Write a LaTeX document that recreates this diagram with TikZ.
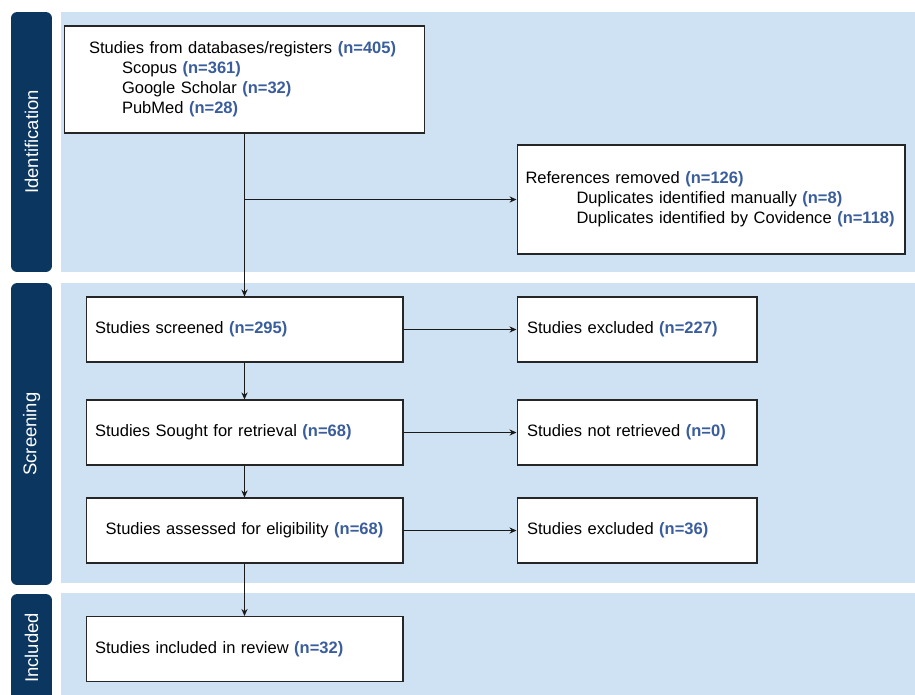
\documentclass[tikz,border=0pt]{standalone}
\usepackage{fontspec}
\setmainfont{Liberation Sans}
\usetikzlibrary{arrows.meta}
\definecolor{panel}{HTML}{CFE2F3}
\definecolor{phase}{HTML}{0B3660}
\definecolor{count}{HTML}{3A5D9C}
\newcommand{\nval}[1]{\textcolor{count}{\textbf{#1}}}

\begin{document}
\begin{tikzpicture}[x=0.02cm, y=-0.02cm,
  font=\fontsize{9.4}{11.3}\selectfont,
  flowbox/.style={draw=black!85, fill=white, line width=0.6pt, align=left, inner ysep=0pt},
  stagebar/.style={fill=phase, rounded corners=3.5pt, text=white, rotate=90, inner sep=0pt,
    minimum height=0.82cm, font=\fontsize{10.5}{12}\selectfont},
  flow/.style={-{Stealth[length=4pt,width=3.5pt]}, line width=0.55pt, draw=black!90}]
\useasboundingbox (0,0) rectangle (915,694);
\clip (0,0) rectangle (915,694);

% stage panels
\fill[panel] (61,12) rectangle (915,272);
\fill[panel] (61,283) rectangle (915,583);
\fill[panel] (61,593) rectangle (915,720);

\node[stagebar, minimum width=5.2cm] (ident) at (31.5,142) {Identification};
\node[stagebar, minimum width=6.04cm] (screen) at (31.5,434) {Screening};
\node[stagebar, minimum width=2.16cm] (incl) at (31.5,648) {Included};

% boxes
\node[flowbox, minimum width=7.22cm, minimum height=2.14cm, inner xsep=0.5cm, text width=6.22cm] (records) at (244.5,79.5)
  {Studies from databases/registers \nval{(n=405)}\\
   \hspace*{0.66cm}Scopus \nval{(n=361)}\\
   \hspace*{0.66cm}Google Scholar \nval{(n=32)}\\
   \hspace*{0.66cm}PubMed \nval{(n=28)}};
\node[flowbox, minimum width=7.76cm, minimum height=2.18cm, inner xsep=0.17cm, text width=7.42cm] (removed) at (711,199.5)
  {References removed \nval{(n=126)}\\
   \hspace*{1.02cm}Duplicates identified manually \nval{(n=8)}\\
   \hspace*{1.02cm}Duplicates identified by Covidence \nval{(n=118)}};

\node[flowbox, minimum width=6.34cm, minimum height=1.3cm, inner xsep=0.18cm, text width=5.98cm] (screened) at (244.5,329.5)
  {Studies screened \nval{(n=295)}};
\node[flowbox, minimum width=6.34cm, minimum height=1.3cm, inner xsep=0.18cm, text width=5.98cm] (sought) at (244.5,432.5)
  {Studies Sought for retrieval \nval{(n=68)}};
\node[flowbox, minimum width=6.34cm, minimum height=1.3cm, inner xsep=0.18cm, text width=5.98cm, align=center] (assessed) at (244.5,530.5)
  {Studies assessed for eligibility \nval{(n=68)}};
\node[flowbox, minimum width=6.34cm, minimum height=1.3cm, inner xsep=0.18cm, text width=5.98cm] (included) at (244.5,649)
  {Studies included in review \nval{(n=32)}};

\node[flowbox, minimum width=4.8cm, minimum height=1.3cm, inner xsep=0.2cm, text width=4.4cm] (excluded) at (637,329.5)
  {Studies excluded \nval{(n=227)}};
\node[flowbox, minimum width=4.8cm, minimum height=1.3cm, inner xsep=0.2cm, text width=4.4cm] (notretr) at (637,432.5)
  {Studies not retrieved \nval{(n=0)}};
\node[flowbox, minimum width=4.8cm, minimum height=1.3cm, inner xsep=0.2cm, text width=4.4cm] (ineligible) at (637,530.5)
  {Studies excluded \nval{(n=36)}};

% connectors
\coordinate (split) at (records.south |- removed.west);
\draw[flow] (records.south) -- (screened.north);
\draw[flow] (split) -- (removed.west);
\draw[flow] (screened.south) -- (sought.north);
\draw[flow] (sought.south) -- (assessed.north);
\draw[flow] (assessed.south) -- (included.north);
\draw[flow] (screened.east) -- (excluded.west);
\draw[flow] (sought.east) -- (notretr.west);
\draw[flow] (assessed.east) -- (ineligible.west);
\end{tikzpicture}
\end{document}
